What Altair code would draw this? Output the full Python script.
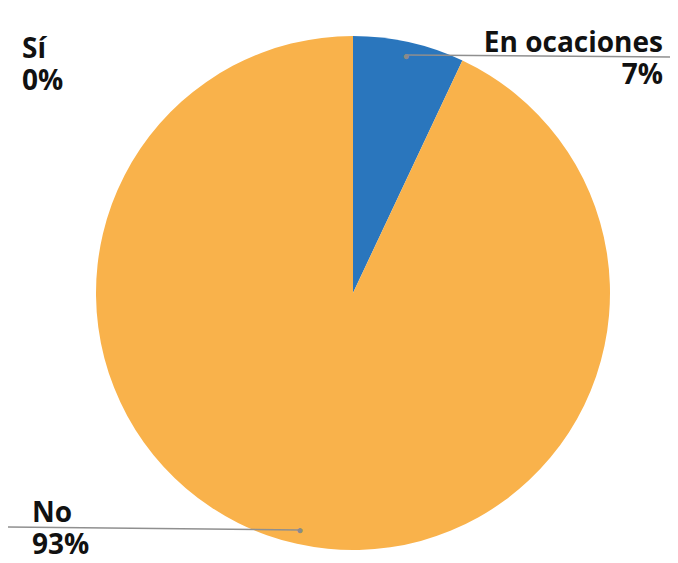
import altair as alt
import pandas as pd

categorias = ["En ocaciones", "Sí", "No"]
valores = [7, 0, 93]
orden = [0, 1, 2]
etiquetas = ["7%", "0%", "93%"]
colores = ["#2A76BD", "#8FB0D8", "#F9B24B"]

df = pd.DataFrame({
    "categoria": categorias,
    "valor": valores,
    "orden": orden,
    "pct": etiquetas,
})
df["texto"] = df["categoria"] + "\n" + df["pct"]

CX, CY = 345, 285
base = alt.Chart(df)

arc = base.mark_arc(outerRadius=257, stroke=None).encode(
    theta=alt.Theta("valor:Q", stack=True),
    order=alt.Order("orden:Q"),
    color=alt.Color("categoria:N", scale=alt.Scale(domain=categorias, range=colores), legend=None),
    x=alt.value(CX), y=alt.value(CY),
)

dots = base.mark_text(radius=243, text="●", fontSize=12, color="#8a8a8a").encode(
    theta=alt.Theta("valor:Q", stack=True),
    order=alt.Order("orden:Q"),
    x=alt.value(CX), y=alt.value(CY),
    opacity=alt.condition("datum.valor > 0", alt.value(1), alt.value(0)),
)

line1 = base.transform_filter("datum.categoria == 'En ocaciones'").mark_rule(
    color="#8f8f8f", strokeWidth=1.5).encode(
    x=alt.value(397), y=alt.value(47), x2=alt.value(662), y2=alt.value(49))
line2 = base.transform_filter("datum.categoria == 'No'").mark_rule(
    color="#8f8f8f", strokeWidth=1.5).encode(
    x=alt.value(292), y=alt.value(522), x2=alt.value(0), y2=alt.value(519))

def label(cat, x, y, align):
    return base.transform_filter(alt.datum.categoria == cat).mark_text(
        align=align, baseline="alphabetic", lineBreak="\n", lineHeight=32,
        font="Open Sans", fontSize=28, fontWeight="bold", color="#111111",
    ).encode(text="texto:N", x=alt.value(x), y=alt.value(y))

chart = alt.layer(
    arc, line1, line2, dots,
    label("Sí", 14, 50, "left"),
    label("En ocaciones", 655, 44, "right"),
    label("No", 24, 514, "left"),
).properties(
    width=662, height=547, padding=0,
    autosize=alt.AutoSizeParams(type="none"),
    background="white",
).configure_view(stroke=None)

chart.save("out.html", embed_options={"renderer": "svg", "actions": False})
